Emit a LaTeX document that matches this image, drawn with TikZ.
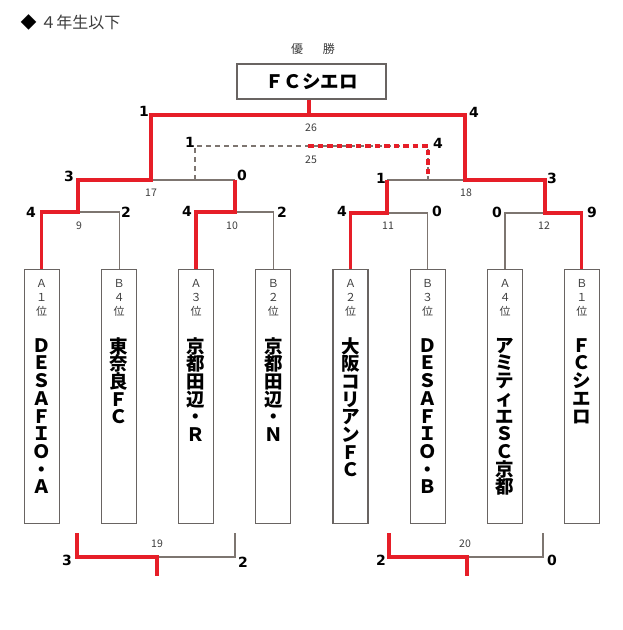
\documentclass[tikz,border=0pt]{standalone}
\usepackage{fontspec}
\newfontfamily\jp{Noto Sans CJK JP}
\newfontfamily\dv{DejaVu Sans}
\definecolor{wred}{RGB}{230,30,40}
\definecolor{lgray}{RGB}{125,117,112}
\definecolor{bgray}{RGB}{105,100,98}
\definecolor{tgray}{RGB}{60,60,60}
\begin{document}
\begin{tikzpicture}[x=1pt,y=-1pt,
 win/.style={draw=wred,line width=3.3pt},
 lose/.style={draw=lgray,line width=1.2pt},
 team/.style={draw=bgray,line width=1.2pt,minimum width=35pt,minimum height=254pt,inner sep=0pt},
 score/.style={font={\dv\bfseries\fontsize{14}{14}\selectfont},inner sep=0pt},
 mlabel/.style={font={\jp\fontsize{10.5}{11}\selectfont},text=tgray,inner sep=0pt},
 rank/.style={font={\jp\fontsize{11}{14}\selectfont\lineskiplimit=-100pt},align=center,inner sep=0pt,anchor=north,text=tgray},
 tname/.style={font={\jp\bfseries\fontsize{18.5}{17.7}\selectfont\lineskiplimit=-100pt},align=center,inner sep=0pt,anchor=north},
]
\useasboundingbox (0,0) rectangle (622,630);

% title
\node[anchor=west,inner sep=0pt,font={\jp\fontsize{16}{16}\selectfont},text=tgray] (title) at (20.5,22) {{\color{black}◆} ４年生以下};
\node[inner sep=0pt,font={\jp\fontsize{12}{13}\selectfont},text=tgray] (yusho) at (313,49) {優\hspace{20pt}勝};
\node[draw=bgray,line width=1.2pt,minimum width=149pt,minimum height=35pt,inner sep=0pt,font={\jp\bfseries\fontsize{18.5}{19}\selectfont}] (champ) at (311.5,81.5) {ＦＣシエロ};

% team boxes
\node[team] (b1) at (41.7,396.3) {};
\node[team] (b2) at (119.2,396.3) {};
\node[team] (b3) at (196,396.3) {};
\node[team] (b4) at (273.3,396.3) {};
\node[team] (b5) at (350.5,396.3) {};
\node[team] (b6) at (427.7,396.3) {};
\node[team] (b7) at (505,396.3) {};
\node[team] (b8) at (581.8,396.3) {};

\node[rank] (r1) at (41.7,277) {\rule{0pt}{10pt}Ａ\\１\\位};
\node[rank] (r2) at (119.2,277) {\rule{0pt}{10pt}Ｂ\\４\\位};
\node[rank] (r3) at (196,277) {\rule{0pt}{10pt}Ａ\\３\\位};
\node[rank] (r4) at (273.3,277) {\rule{0pt}{10pt}Ｂ\\２\\位};
\node[rank] (r5) at (350.5,277) {\rule{0pt}{10pt}Ａ\\２\\位};
\node[rank] (r6) at (427.7,277) {\rule{0pt}{10pt}Ｂ\\３\\位};
\node[rank] (r7) at (505,277) {\rule{0pt}{10pt}Ａ\\４\\位};
\node[rank] (r8) at (581.8,277) {\rule{0pt}{10pt}Ｂ\\１\\位};

\node[tname] (n1) at (41.7,337) {\rule{0pt}{15pt}Ｄ\\Ｅ\\Ｓ\\Ａ\\Ｆ\\Ｉ\\Ｏ\\・\\Ａ};
\node[tname] (n2) at (119.2,337) {\rule{0pt}{15pt}東\\奈\\良\\Ｆ\\Ｃ};
\node[tname] (n3) at (196,337) {\rule{0pt}{15pt}京\\都\\田\\辺\\・\\Ｒ};
\node[tname] (n4) at (273.3,337) {\rule{0pt}{15pt}京\\都\\田\\辺\\・\\Ｎ};
\node[tname] (n5) at (350.5,337) {\rule{0pt}{15pt}大\\阪\\コ\\リ\\ア\\ン\\Ｆ\\Ｃ};
\node[tname] (n6) at (427.7,337) {\rule{0pt}{15pt}Ｄ\\Ｅ\\Ｓ\\Ａ\\Ｆ\\Ｉ\\Ｏ\\・\\Ｂ};
\node[tname] (n7) at (505,337) {\rule{0pt}{15pt}ア\\ミ\\テ\\ィ\\エ\\Ｓ\\Ｃ\\京\\都};
\node[tname] (n8) at (581.8,337) {\rule{0pt}{15pt}Ｆ\\Ｃ\\シ\\エ\\ロ};

% junctions
\coordinate (m9) at (78,212);
\coordinate (m10) at (235,212);
\coordinate (m11) at (387,213);
\coordinate (m12) at (545,213);
\coordinate (s17) at (151,180);
\coordinate (s18) at (465,180);
\coordinate (fin) at (309,115);
\coordinate (f2) at (465,115);
\coordinate (t1) at (195,146);
\coordinate (t2) at (308,146);
\coordinate (t3) at (428,146);
\coordinate (t3b) at (428,176);

% losing lines
\draw[lose] (b2.north) |- (m9);
\draw[lose] (b4.north) |- (m10);
\draw[lose] (m10 |- s17) -- (s17);
\draw[lose] (s17 |- fin) -- (fin);
\draw[lose] (b6.north) |- (m11);
\draw[lose] (b7.north) |- (m12);
\draw[lose] (m11 |- s18) -- (s18);
\draw[lose,dash pattern=on 5pt off 4pt] (t1 |- s17) -- (t1) -- (t3) -- (t3 |- s18);

% winning lines
\draw[win] (b1.north) |- (m9) |- (s17) |- (fin) -- (f2) -- (s18) -| (m12) -| (b8.north);
\draw[win] (champ.south -| fin) -- (fin);
\draw[win] (b3.north) |- (m10) -- (m10 |- s17);
\draw[win] (b5.north) |- (m11) -- (m11 |- s18);
\draw[win,dash pattern=on 5.5pt off 4pt] (t2) -- (t3) -- (t3b);

% bottom matches
\coordinate (p19a) at (77,533);
\coordinate (p19m) at (157,557);
\coordinate (p19b) at (235,533);
\coordinate (p19d) at (157,576);
\coordinate (p20a) at (389,533);
\coordinate (p20m) at (467,557);
\coordinate (p20b) at (543,533);
\coordinate (p20d) at (467,576);
\draw[lose] (p19m) -| (p19b);
\draw[win] (p19a) |- (p19m) -- (p19d);
\draw[lose] (p20m) -| (p20b);
\draw[win] (p20a) |- (p20m) -- (p20d);

% match labels
\node[mlabel] (l26) at (311,128) {26};
\node[mlabel] (l25) at (311,160) {25};
\node[mlabel] (l17) at (151,193) {17};
\node[mlabel] (l18) at (466,193) {18};
\node[mlabel] (l9) at (79,226) {9};
\node[mlabel] (l10) at (232,226) {10};
\node[mlabel] (l11) at (388,226) {11};
\node[mlabel] (l12) at (544,226) {12};
\node[mlabel] (l19) at (157,544) {19};
\node[mlabel] (l20) at (465,544) {20};

% scores
\node[score] (sfa) at (144,111) {1};
\node[score] (sfb) at (474,112) {4};
\node[score] (sta) at (190,142) {1};
\node[score] (stb) at (438,143) {4};
\node[score] (s17a) at (69,176) {3};
\node[score] (s17b) at (242,175) {0};
\node[score] (s18a) at (381,178) {1};
\node[score] (s18b) at (552,178) {3};
\node[score] (s9a) at (31,212) {4};
\node[score] (s9b) at (126,212) {2};
\node[score] (s10a) at (187,211) {4};
\node[score] (s10b) at (282,212) {2};
\node[score] (s11a) at (342,211) {4};
\node[score] (s11b) at (437,211) {0};
\node[score] (s12a) at (497,212) {0};
\node[score] (s12b) at (592,212) {9};
\node[score] (s19a) at (67,560) {3};
\node[score] (s19b) at (243,562) {2};
\node[score] (s20a) at (381,560) {2};
\node[score] (s20b) at (552,560) {0};
\end{tikzpicture}
\end{document}
